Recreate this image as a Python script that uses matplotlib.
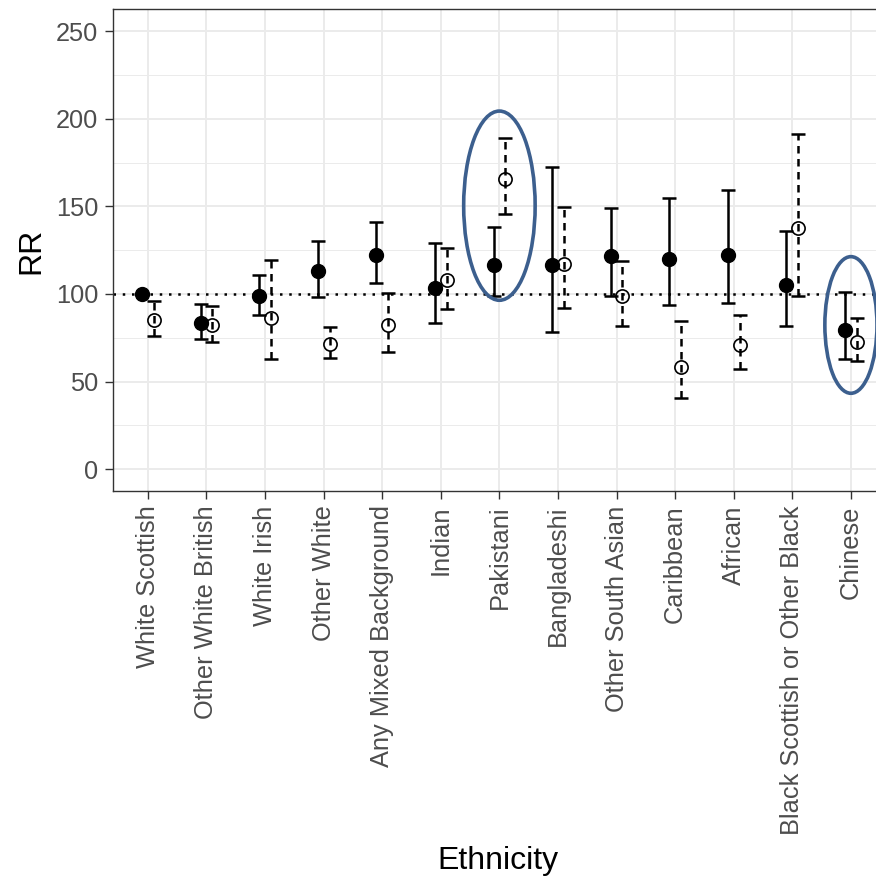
import matplotlib
matplotlib.use("Agg")
import numpy as np
from matplotlib import pyplot as plt
from matplotlib.patches import Ellipse
from matplotlib.ticker import MultipleLocator

plt.rcParams['font.family'] = ['Liberation Sans', 'DejaVu Sans']

ethnicity = ['White Scottish', 'Other White British', 'White Irish', 'Other White',
             'Any Mixed Background', 'Indian', 'Pakistani', 'Bangladeshi',
             'Other South Asian', 'Caribbean', 'African',
             'Black Scottish or Other Black', 'Chinese']

# filled points, solid CI
rr_a = [100, 83.5, 99, 112.9, 122.4, 103.4, 116.7, 116.7, 121.4, 120.1, 122.4, 105.3, 79.3]
lo_a = [100, 74.4, 88, 98, 106.4, 83.5, 98.7, 78.4, 98.7, 93.9, 94.9, 81.6, 62.6]
hi_a = [100, 94.5, 111, 130, 141, 129, 138.5, 172.7, 149.3, 154.5, 159.4, 136.2, 100.9]

# open points, dashed CI
rr_b = [85.4, 82, 86.4, 71.7, 82.2, 107.8, 165.5, 117.3, 98.7, 58.2, 70.8, 137.6, 72.7]
lo_b = [75.9, 72.5, 62.6, 63.4, 67, 91.6, 145.5, 91.8, 81.6, 40.8, 57.3, 99, 61.7]
hi_b = [95.8, 93, 119.2, 81.4, 100.6, 126, 189.2, 149.9, 119, 84.4, 87.9, 191.1, 86.4]

# highlighted groups: (category, centre RR, width, height)
circles = [('Pakistani', 150.4, 1.22, 108), ('Chinese', 82.3, 0.89, 78)]

fig = plt.figure(figsize=(8.76, 8.77), dpi=100)
ax = fig.add_axes([0.1287, 0.4401, 0.8828, 0.5493])

x = np.arange(len(ethnicity))
d = 0.1
rr_a, lo_a, hi_a = np.array(rr_a), np.array(lo_a), np.array(hi_a)
rr_b, lo_b, hi_b = np.array(rr_b), np.array(lo_b), np.array(hi_b)

ax.axhline(100, color='black', lw=1.8, ls=(0, (1, 2.7)), zorder=2)

eb = ax.errorbar(x - d, rr_a, yerr=[rr_a - lo_a, hi_a - rr_a], fmt='none',
                 ecolor='black', elinewidth=1.8, capsize=5, capthick=1.8, zorder=3)
eb2 = ax.errorbar(x + d, rr_b, yerr=[rr_b - lo_b, hi_b - rr_b], fmt='none',
                  ecolor='black', elinewidth=1.8, capsize=5, capthick=1.8, zorder=3)
eb2[2][0].set_linestyle((0, (3, 2.2)))

ax.plot(x - d, rr_a, 'o', color='black', ms=10, zorder=4)
ax.plot(x + d, rr_b, 'o', mfc='none', mec='black', mew=1.2, ms=9.5, zorder=4)

for name, cy, w, h in circles:
    cx = ethnicity.index(name)
    ax.add_patch(Ellipse((cx, cy), w, h, fill=False, ec='#3C5F8E', lw=2.6, zorder=5))

ax.set_xlim(-0.6, len(ethnicity) - 0.4)
ax.set_ylim(-12.5, 262.5)
ax.set_xticks(x)
ax.set_xticklabels(ethnicity, rotation=90, ha='center', va='top')
ax.yaxis.set_major_locator(MultipleLocator(50))
ax.yaxis.set_minor_locator(MultipleLocator(25))

ax.grid(True, which='major', color='#EBEBEB', lw=1.4)
ax.grid(True, which='minor', axis='y', color='#EBEBEB', lw=0.7)
ax.set_axisbelow(True)
ax.tick_params(which='major', length=5.8, width=1, color='#333333',
               labelsize=18.3, labelcolor='#4D4D4D', pad=4.5)
ax.tick_params(which='minor', length=0)
for s in ax.spines.values():
    s.set_color('#333333')
    s.set_linewidth(1)

fig.text(498 / 876, 8 / 877, 'Ethnicity', fontsize=23, ha='center', va='baseline')
fig.text(31 / 876, 1 - 251 / 877, 'RR', fontsize=23, rotation=90, ha='center', va='center')

fig.savefig('out.png', dpi=100)
